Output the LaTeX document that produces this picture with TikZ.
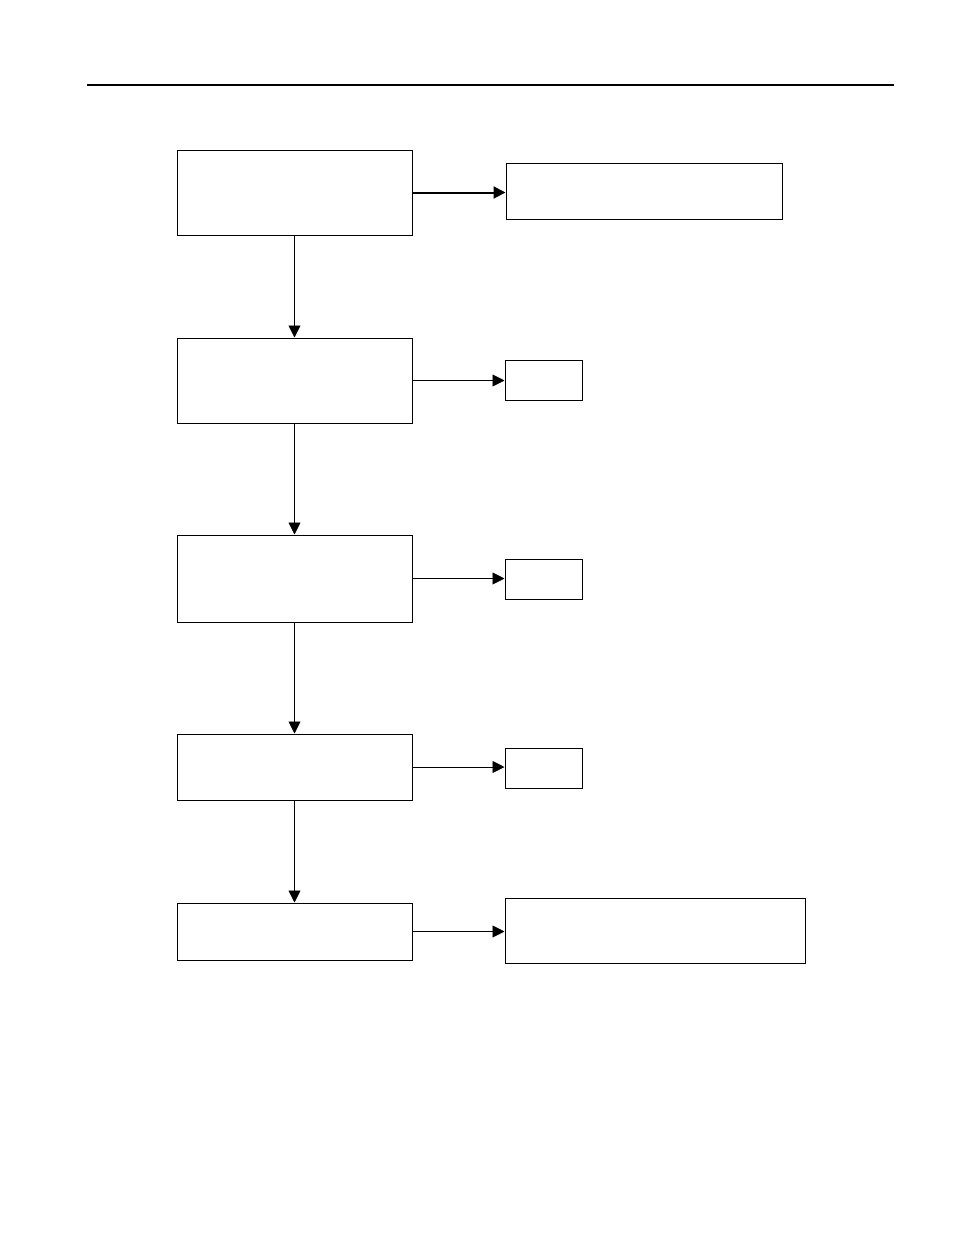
\documentclass[tikz,border=0pt]{standalone}
\usetikzlibrary{arrows.meta}
\tikzset{
  box/.style={draw, line width=1pt, inner sep=0pt},
  flow/.style={line width=0.9pt, -{Triangle[width=12pt,length=12pt]}}
}
\begin{document}
\begin{tikzpicture}[x=1pt, y=-1pt]
    \useasboundingbox (0,0) rectangle (954,1235);
    \draw[line width=1.2pt] (87,85) -- (894,85);
    % left column
    \node[box, minimum width=235pt, minimum height=85pt] (s1) at (294.5,192.5) {};
    \node[box, minimum width=235pt, minimum height=85pt] (s2) at (294.5,380.5) {};
    \node[box, minimum width=235pt, minimum height=87pt] (s3) at (294.5,578.5) {};
    \node[box, minimum width=235pt, minimum height=66pt] (s4) at (294.5,767) {};
    \node[box, minimum width=235pt, minimum height=57pt] (s5) at (294.5,931.5) {};
    % right column
    \node[box, minimum width=276pt, minimum height=56pt] (r1) at (644,191) {};
    \node[box, minimum width=77pt, minimum height=40pt] (r2) at (543.5,380) {};
    \node[box, minimum width=77pt, minimum height=40pt] (r3) at (543.5,579) {};
    \node[box, minimum width=77pt, minimum height=40pt] (r4) at (543.5,768) {};
    \node[box, minimum width=300pt, minimum height=65pt] (r5) at (655,930.5) {};
    \foreach \a/\b in {s1/s2,s2/s3,s3/s4,s4/s5} {\draw[flow] (\a) -- (\b);}
    \draw[flow, line width=2pt] (s1.east) -- (s1.east -| r1.west);
    \foreach \i in {2,3,4,5} {\draw[flow] (s\i.east) -- (s\i.east -| r\i.west);}
\end{tikzpicture}
\end{document}
